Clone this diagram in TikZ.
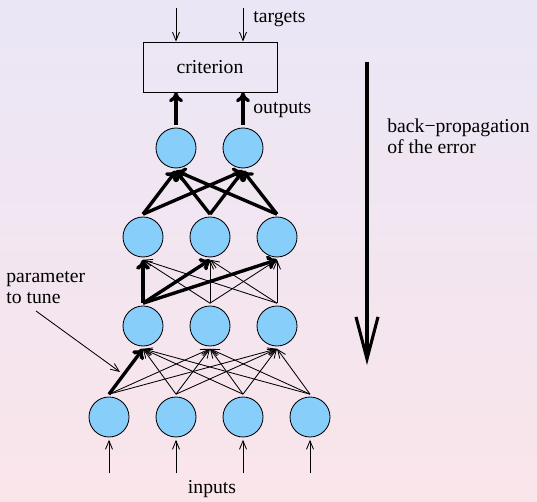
\documentclass[tikz,border=0pt]{standalone}
\usepackage{fontspec}
\newfontfamily\labelfont{Liberation Serif}
\usetikzlibrary{arrows.meta}
\definecolor{bgtop}{RGB}{234,230,246}
\definecolor{bgbottom}{RGB}{250,229,234}
\definecolor{neuronblue}{RGB}{135,206,250}
\tikzset{
  neuron/.style={circle,draw=black,line width=0.6pt,fill=neuronblue,minimum size=1cm,inner sep=0pt,outer sep=2pt},
  arc/.style={-{Straight Barb[length=6pt,width=5pt]},line width=0.6pt},
  heavy arc/.style={-{To[length=7pt,width=10pt]},line width=2.4pt},
}
\begin{document}
\begin{tikzpicture}[font=\fontsize{14}{15}\selectfont]
\useasboundingbox (0,0) rectangle (13.425,12.525);
\shade[top color=bgtop,bottom color=bgbottom] (0,0) rectangle (13.425,12.525);
% layers of units
\foreach \i/\x in {1/2.725,2/4.4,3/6.075,4/7.75}
  \node[neuron] (in\i) at (\x,2.1) {};
\foreach \i/\x in {1/3.575,2/5.25,3/6.925}
  \node[neuron] (hida\i) at (\x,4.375) {};
\foreach \i/\x in {1/3.575,2/5.25,3/6.925}
  \node[neuron] (hidb\i) at (\x,6.6) {};
\foreach \i/\x in {1/4.4,2/6.075}
  \node[neuron] (out\i) at (\x,8.825) {};
\node[draw,line width=0.6pt,minimum width=3.35cm,minimum height=1.25cm] (crit) at (5.25,10.85) {\labelfont criterion};
% connections
\foreach \i in {1,...,4}
  \foreach \j in {1,2,3}
    \draw[arc] (in\i.north) -- (hida\j.south);
\draw[heavy arc] (in1.north) -- (hida1.south);
\foreach \i in {1,2,3}
  \foreach \j in {1,2,3}
    \draw[arc] (hida\i.north) -- (hidb\j.south);
\foreach \j in {1,2,3}
  \draw[heavy arc] (hida1.north) -- (hidb\j.south);
\foreach \i in {1,2,3}
  \foreach \j in {1,2}
    \draw[heavy arc] (hidb\i.north) -- (out\j.south);
\foreach \j in {1,2}
  \draw[heavy arc] (out\j.north) -- (out\j |- crit.south);
% inputs and targets
\foreach \i/\x in {1/2.725,2/4.4,3/6.075,4/7.75}{
  \coordinate (src\i) at (\x,0.7);
  \draw[arc] (src\i) -- (in\i);
}
\foreach \i/\x in {1/4.4,2/6.075}{
  \coordinate (tgt\i) at (\x,12.325);
  \draw[arc] (tgt\i) -- (tgt\i |- crit.north);
}
\node (inputs) at (5.3,0.3) {\labelfont inputs};
\node[anchor=west] (targets) at (6.21,12.05) {\labelfont targets};
\node[anchor=west] (outputs) at (6.21,9.775) {\labelfont outputs};
% back-propagation
\coordinate (bptop) at (9.175,10.975);
\coordinate (bpbot) at (9.175,3.4);
\draw[line width=2.2pt,-{Straight Barb[length=1.05cm,width=0.55cm]}] (bptop) -- (bpbot);
\node[anchor=west,align=left] (bplabel) at (9.56,9.125) {\labelfont back−propagation\\\labelfont of the error};
% parameter to tune
\node[anchor=west,align=left] (param) at (0.035,5.325) {\labelfont parameter\\\labelfont to tune};
\coordinate (ptail) at (0.9,4.75);
\coordinate (phead) at (3.0,3.225);
\draw[arc] (ptail) -- (phead);
\end{tikzpicture}
\end{document}
